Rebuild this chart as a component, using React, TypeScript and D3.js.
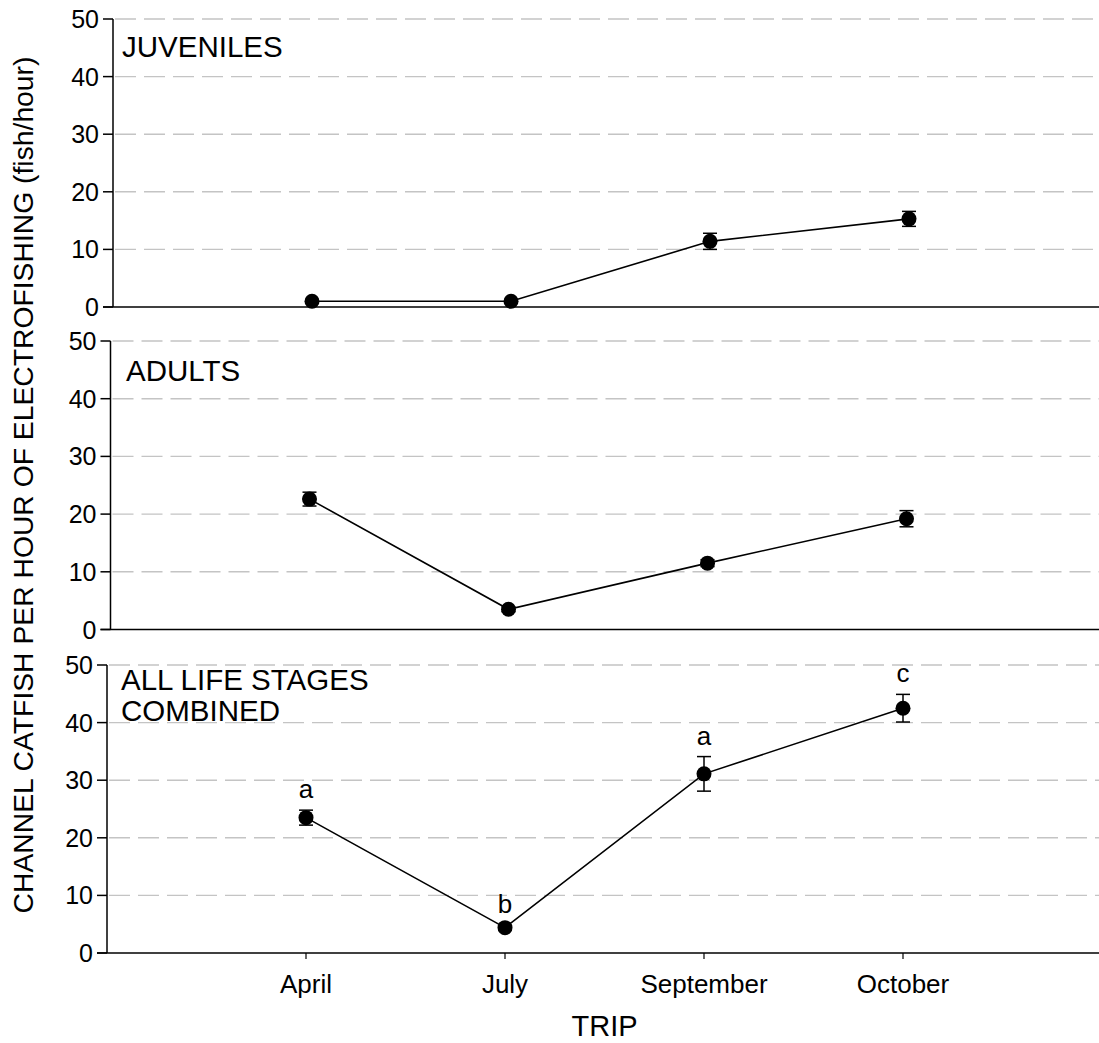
import React from 'react';
import * as d3 from 'd3';

// Trips sampled
const trips = ['April', 'July', 'September', 'October'];

// Mean catch per hour and standard error
const juvenileMeans = [1.0, 1.0, 11.4, 15.3];
const juvenileErrors = [0.3, 0.3, 1.4, 1.3];

const adultMeans = [22.6, 3.5, 11.5, 19.2];
const adultErrors = [1.2, 0.4, 0.6, 1.4];

const combinedMeans = [23.5, 4.4, 31.1, 42.5];
const combinedErrors = [1.3, 0.4, 3.0, 2.4];
const combinedLetters = ['a', 'b', 'a', 'c'];

const yTicks = [0, 10, 20, 30, 40, 50];

const FONT = 'Arial, "Liberation Sans", Helvetica, sans-serif';

interface PanelProps {
  left: number;
  top: number;
  bottom: number;
  means: number[];
  errors: number[];
  titleLines: string[];
  titleX: number;
  titleY: number;
  letters?: string[];
  showXLabels?: boolean;
}

function Panel({
  left,
  top,
  bottom,
  means,
  errors,
  titleLines,
  titleX,
  titleY,
  letters,
  showXLabels = false,
}: PanelProps) {
  const x = d3.scaleLinear().domain([0, 5]).range([left, left + 995]);
  const y = d3.scaleLinear().domain([0, 50]).range([bottom, top]);

  const points = means.map((m, i) => ({ x: x(i + 1), y: y(m), m, e: errors[i] }));
  const line = d3
    .line<{ x: number; y: number }>()
    .x((d) => d.x)
    .y((d) => d.y);

  return (
    <g>
      {/* dashed grid */}
      {yTicks
        .filter((t) => t > 0)
        .map((t) => (
          <line
            key={'g' + t}
            x1={left + 2}
            x2={x(5)}
            y1={y(t)}
            y2={y(t)}
            stroke="#c4c4c4"
            strokeWidth={1.4}
            strokeDasharray="21,8"
          />
        ))}

      {/* axes */}
      <line x1={left} x2={left} y1={y(50)} y2={y(0)} stroke="#000" strokeWidth={1.5} />
      <line x1={left - 10} x2={x(5)} y1={y(0)} y2={y(0)} stroke="#000" strokeWidth={1.5} />
      {yTicks.map((t) => (
        <g key={'t' + t}>
          <line x1={left - 10} x2={left} y1={y(t)} y2={y(t)} stroke="#000" strokeWidth={1.5} />
          <text
            x={left - 14}
            y={y(t)}
            dy="0.36em"
            textAnchor="end"
            fontSize={25}
            fontFamily={FONT}
            fill="#000"
          >
            {t}
          </text>
        </g>
      ))}

      {showXLabels &&
        trips.map((name, i) => (
          <g key={name}>
            <line x1={x(i + 1)} x2={x(i + 1)} y1={y(0)} y2={y(0) + 6} stroke="#000" strokeWidth={1.2} />
            <text
              x={x(i + 1)}
              y={y(0) + 40}
              textAnchor="middle"
              fontSize={26}
              fontFamily={FONT}
              fill="#000"
            >
              {name}
            </text>
          </g>
        ))}

      {/* title */}
      <text x={titleX} y={titleY} fontSize={29.5} fontFamily={FONT} fill="#000">
        {titleLines.map((l, i) => (
          <tspan key={l} x={titleX} dy={i === 0 ? 0 : 31}>
            {l}
          </tspan>
        ))}
      </text>

      {/* connecting line */}
      <path d={line(points) || ''} fill="none" stroke="#000" strokeWidth={1.6} />

      {/* error bars */}
      {points.map((p, i) => (
        <g key={'e' + i} stroke="#000" strokeWidth={1.5}>
          <line x1={p.x} x2={p.x} y1={y(p.m + p.e)} y2={y(p.m - p.e)} />
          <line x1={p.x - 7} x2={p.x + 7} y1={y(p.m + p.e)} y2={y(p.m + p.e)} />
          <line x1={p.x - 7} x2={p.x + 7} y1={y(p.m - p.e)} y2={y(p.m - p.e)} />
        </g>
      ))}

      {/* markers */}
      {points.map((p, i) => (
        <circle key={'c' + i} cx={p.x} cy={p.y} r={7.5} fill="#000" />
      ))}

      {letters &&
        points.map((p, i) => (
          <text
            key={'l' + i}
            x={p.x}
            y={y(p.m + p.e) - 12}
            textAnchor="middle"
            fontSize={26}
            fontFamily={FONT}
            fill="#000"
          >
            {letters[i]}
          </text>
        ))}
    </g>
  );
}

export default function App() {
  const width = 1099;
  const height = 1043;

  return (
    <svg
      width={width}
      height={height}
      style={{ position: 'absolute', left: 0, top: 0, background: '#fff' }}
    >
      <rect width={width} height={height} fill="#fff" />

      <Panel
        left={113}
        top={19}
        bottom={307}
        means={juvenileMeans}
        errors={juvenileErrors}
        titleLines={['JUVENILES']}
        titleX={122}
        titleY={57}
      />
      <Panel
        left={110.5}
        top={341}
        bottom={629.5}
        means={adultMeans}
        errors={adultErrors}
        titleLines={['ADULTS']}
        titleX={126}
        titleY={381}
      />
      <Panel
        left={107}
        top={665}
        bottom={953}
        means={combinedMeans}
        errors={combinedErrors}
        titleLines={['ALL LIFE STAGES', 'COMBINED']}
        titleX={121}
        titleY={690}
        letters={combinedLetters}
        showXLabels
      />

      <text
        transform="translate(33,485) rotate(-90)"
        textAnchor="middle"
        fontSize={28.3}
        fontFamily={FONT}
        fill="#000"
      >
        CHANNEL CATFISH PER HOUR OF ELECTROFISHING (fish/hour)
      </text>

      <text x={604.5} y={1036} textAnchor="middle" fontSize={29} fontFamily={FONT} fill="#000">
        TRIP
      </text>
    </svg>
  );
}
